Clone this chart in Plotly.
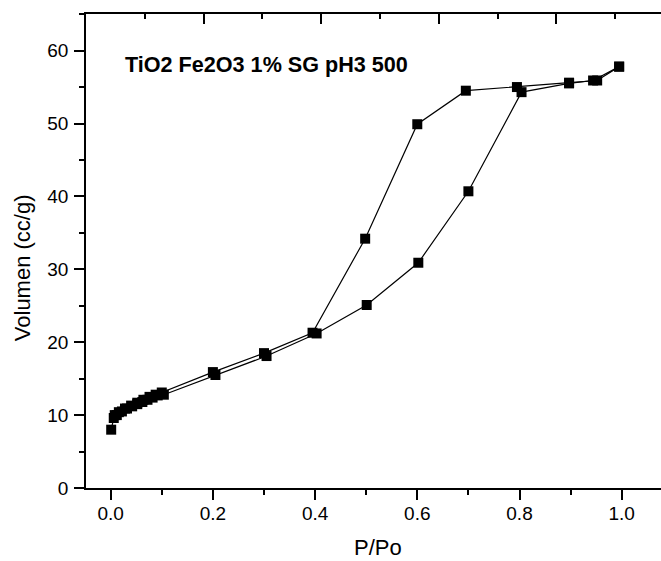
import plotly.graph_objects as go

# Adsorption branch
ads_x = [0.001, 0.006, 0.012, 0.022, 0.032, 0.042, 0.052, 0.062, 0.072, 0.082, 0.092, 0.104,
         0.205, 0.305, 0.403, 0.501, 0.602, 0.700, 0.804, 0.897, 0.944, 0.995]
ads_y = [8.0, 9.6, 10.0, 10.5, 10.9, 11.2, 11.5, 11.8, 12.1, 12.4, 12.7, 12.8,
         15.5, 18.1, 21.2, 25.1, 30.9, 40.7, 54.3, 55.5, 55.9, 57.8]

# Desorption branch
des_x = [0.995, 0.952, 0.897, 0.795, 0.695, 0.600, 0.498, 0.395, 0.300, 0.200,
         0.100, 0.088, 0.076, 0.064, 0.052, 0.040, 0.028, 0.016, 0.008]
des_y = [57.8, 55.9, 55.6, 55.0, 54.5, 49.9, 34.2, 21.3, 18.5, 15.9,
         13.1, 12.8, 12.5, 12.1, 11.7, 11.3, 10.9, 10.4, 10.0]

title_text = "TiO2 Fe2O3 1% SG pH3 500"
x_title = "P/Po"
y_title = "Volumen (cc/g)"

FONT = "Arial, Liberation Sans, sans-serif"

fig = go.Figure()
common = dict(mode="lines+markers",
              line=dict(color="black", width=1.2),
              marker=dict(symbol="square", size=10, color="black"),
              showlegend=False, hoverinfo="x+y")
fig.add_trace(go.Scatter(x=ads_x, y=ads_y, **common))
fig.add_trace(go.Scatter(x=des_x, y=des_y, **common))
# invisible trace to activate the top axis
fig.add_trace(go.Scatter(x=[0], y=[0], xaxis="x2", mode="markers",
                         marker=dict(opacity=0), showlegend=False, hoverinfo="skip"))

fig.update_layout(
    width=661, height=561,
    margin=dict(l=86, r=0, t=14, b=73),
    paper_bgcolor="white", plot_bgcolor="white",
    font=dict(family=FONT, color="black"),
    xaxis=dict(range=[-0.0483, 1.0769], tickmode="linear", tick0=0, dtick=0.2,
               tickformat=".1f", ticks="outside", ticklen=10, tickwidth=1.5,
               tickcolor="black", showline=True, linecolor="black", linewidth=1.5,
               showgrid=False, zeroline=False, tickfont=dict(size=19),
               ticklabelstandoff=-3,
               minor=dict(ticks="outside", ticklen=5, tickwidth=1.5, dtick=0.1,
                          tickcolor="black", showgrid=False)),
    xaxis2=dict(overlaying="x", side="top", range=[0, 9.779], tickmode="linear",
                tick0=0, dtick=2, ticks="inside", ticklen=10, tickwidth=1.5,
                tickcolor="black", showline=True, linecolor="black", linewidth=1.5,
                showticklabels=False, showgrid=False, zeroline=False,
                minor=dict(ticks="inside", ticklen=5, tickwidth=1.5, dtick=1,
                           tickcolor="black", showgrid=False)),
    yaxis=dict(range=[0, 65.02], tickmode="linear", tick0=0, dtick=10,
               ticks="outside", ticklen=10, tickwidth=1.5, tickcolor="black",
               showline=True, linecolor="black", linewidth=1.5, showgrid=False,
               zeroline=False, tickfont=dict(size=19), ticklabelstandoff=2,
               minor=dict(ticks="outside", ticklen=5, tickwidth=1.5, dtick=5,
                          tickcolor="black", showgrid=False)),
    annotations=[
        dict(text="<b>" + title_text + "</b>", xref="paper", yref="paper",
             x=(123 - 86) / 575, y=(488.3 - 65) / 474, xanchor="left", yanchor="middle",
             showarrow=False, font=dict(size=21.6, family=FONT)),
        dict(text=x_title, xref="paper", yref="paper",
             x=(378 - 86) / 575, y=-(548 - 488.3) / 474, xanchor="center", yanchor="middle",
             showarrow=False, font=dict(size=22, family=FONT)),
        dict(text=y_title, xref="paper", yref="paper",
             x=-(86 - 22.5) / 575, y=(488.3 - 268) / 474, xanchor="center", yanchor="middle",
             textangle=-90, showarrow=False, font=dict(size=22, family=FONT)),
    ],
)

fig.write_html("out.html")
